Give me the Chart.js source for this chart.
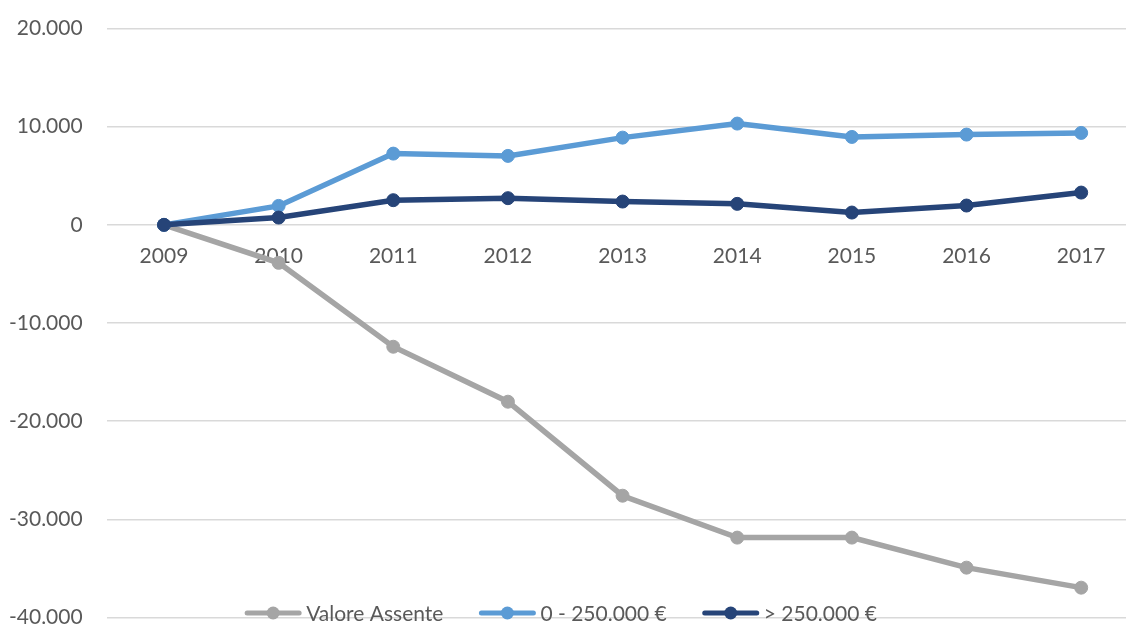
<!DOCTYPE html>
<html>
<head>
<meta charset="utf-8">
<script src="https://cdn.jsdelivr.net/npm/chart.js@4/dist/chart.umd.min.js"></script>
<style>
  html, body { margin: 0; padding: 0; background: #fff; overflow: hidden; }
  #wrap { width: 1146px; height: 662px; position: relative; top: -8px; }
</style>
</head>
<body>
<div id="wrap"><canvas id="chart"></canvas></div>
<script>
// anni sull'asse x
const years = ['2009', '2010', '2011', '2012', '2013', '2014', '2015', '2016', '2017'];

// serie
const valoreAssente = [0, -3870, -12420, -18020, -27600, -31870, -31870, -34930, -36970];
const fascia0_250k = [0, 1935, 7260, 7030, 8890, 10320, 8960, 9200, 9370];
const oltre250k = [0, 745, 2515, 2720, 2375, 2140, 1255, 1970, 3290];

const seriesLabels = ['Valore Assente', '0 - 250.000 €', '> 250.000 €'];
const seriesColors = ['#A5A5A5', '#5B9BD5', '#264478'];

const yMin = -40000, yMax = 20000, yStep = 10000;

const FONT = 'Lato, "Open Sans", sans-serif';
const TEXT_COLOR = '#595959';

function fmtIt(v) {
    const s = Math.abs(v).toString().replace(/\B(?=(\d{3})+(?!\d))/g, '.');
    return (v < 0 ? '-' : '') + s;
}

// legenda disegnata in basso, sopra l'area del grafico (come in Excel)
const bottomLegend = {
    id: 'bottomLegend',
    afterDraw(chart) {
        const ctx = chart.ctx;
        const sets = chart.data.datasets;
        ctx.save();
        ctx.font = '21px ' + FONT;
        ctx.textBaseline = 'middle';
        const lineLen = 56, gap = 5, itemGap = 36;
        const widths = sets.map(d => ctx.measureText(d.label).width);
        let total = 0;
        widths.forEach((w, i) => { total += lineLen + gap + w + (i < widths.length - 1 ? itemGap : 0); });
        let x = 561 - total / 2;
        const y = 621;
        sets.forEach((d, i) => {
            ctx.strokeStyle = d.borderColor;
            ctx.lineWidth = 5;
            ctx.lineCap = 'round';
            ctx.beginPath();
            ctx.moveTo(x + 2, y);
            ctx.lineTo(x + lineLen - 2, y);
            ctx.stroke();
            ctx.fillStyle = d.borderColor;
            ctx.beginPath();
            ctx.arc(x + lineLen / 2, y, 6.5, 0, Math.PI * 2);
            ctx.fill();
            ctx.fillStyle = TEXT_COLOR;
            ctx.fillText(d.label, x + lineLen + gap, y + 1);
            x += lineLen + gap + widths[i] + itemGap;
        });
        ctx.restore();
    }
};

const seriesData = [valoreAssente, fascia0_250k, oltre250k];

new Chart(document.getElementById('chart'), {
    type: 'line',
    data: {
        labels: years,
        datasets: seriesData.map((arr, i) => ({
            label: seriesLabels[i],
            data: arr,
            borderColor: seriesColors[i],
            backgroundColor: seriesColors[i],
            pointBackgroundColor: seriesColors[i],
            pointBorderColor: seriesColors[i],
            borderWidth: 5.5,
            pointRadius: 6.5,
            pointBorderWidth: 1,
            tension: 0,
            fill: false,
            order: seriesData.length - i
        }))
    },
    options: {
        responsive: true,
        maintainAspectRatio: false,
        animation: false,
        layout: { padding: { left: -15, top: 21, bottom: -15, right: 2 } },
        plugins: {
            legend: { display: false },
            tooltip: { enabled: false }
        },
        scales: {
            x: {
                position: { y: 0 },
                offset: true,
                grid: { display: false, drawTicks: false },
                border: { display: false },
                ticks: {
                    color: TEXT_COLOR,
                    font: { family: FONT, size: 21 },
                    padding: 19,
                    maxRotation: 0
                }
            },
            y: {
                min: yMin,
                max: yMax,
                grid: { color: '#D9D9D9', lineWidth: 1.5, drawTicks: false },
                border: { display: false },
                ticks: {
                    stepSize: yStep,
                    color: TEXT_COLOR,
                    font: { family: FONT, size: 21 },
                    padding: 24,
                    callback: v => fmtIt(v)
                }
            }
        }
    },
    plugins: [bottomLegend]
});
</script>
</body>
</html>
